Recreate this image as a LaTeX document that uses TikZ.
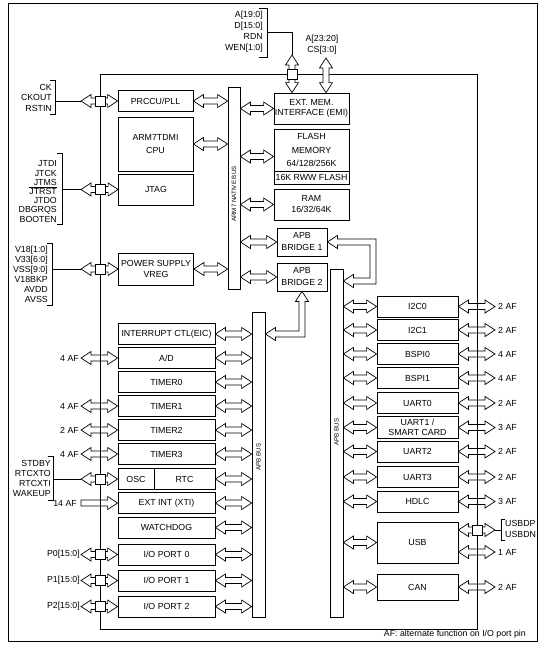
\documentclass[tikz,border=0pt]{standalone}
\usepackage{amsmath}
\usepackage{fontspec}
\setmainfont{Liberation Sans}
\usetikzlibrary{calc}

% hollow arrow sizes
\newcommand{\ahl}{10pt}
\newcommand{\ahw}{6.5pt}
\newcommand{\asw}{3pt}
\newcommand{\blkfont}{\fontsize{8.8}{10}\selectfont}

% horizontal double arrow: #1 left tip, #2 right tip
\newcommand{\hdarr}[2]{%
  \draw[fatarr] let \p1=#1, \p2=#2 in
    (\x1,\y1) -- (\x1+\ahl,\y1+\ahw) -- (\x1+\ahl,\y1+\asw)
    -- (\x2-\ahl,\y1+\asw) -- (\x2-\ahl,\y1+\ahw) -- (\x2,\y1)
    -- (\x2-\ahl,\y1-\ahw) -- (\x2-\ahl,\y1-\asw)
    -- (\x1+\ahl,\y1-\asw) -- (\x1+\ahl,\y1-\ahw) -- cycle;}
% vertical double arrow: #1 top tip, #2 bottom tip
\newcommand{\vdarr}[2]{%
  \draw[fatarr, fill=white] let \p1=#1, \p2=#2 in
    (\x1,\y1) -- (\x1+\ahw,\y1-\ahl) -- (\x1+\asw,\y1-\ahl)
    -- (\x1+\asw,\y2+\ahl) -- (\x1+\ahw,\y2+\ahl) -- (\x1,\y2)
    -- (\x1-\ahw,\y2+\ahl) -- (\x1-\asw,\y2+\ahl)
    -- (\x1-\asw,\y1-\ahl) -- (\x1-\ahw,\y1-\ahl) -- cycle;}
% single arrow with flat tail: #1 tail, #2 tip
\newcommand{\hsarr}[2]{%
  \draw[fatarr] let \p1=#1, \p2=#2 in
    (\x1,\y1+\asw) -- (\x2-\ahl,\y1+\asw) -- (\x2-\ahl,\y1+\ahw) -- (\x2,\y1)
    -- (\x2-\ahl,\y1-\ahw) -- (\x2-\ahl,\y1-\asw) -- (\x1,\y1-\asw) -- cycle;}
% pad square on the chip edge
\newcommand{\pinsq}[1]{\draw[sqr] #1 ++(-5pt,-5pt) rectangle ++(10pt,10pt);}
% pin group bracket: x, top, bottom, tick
\newcommand{\pinbrk}[4]{\draw[wire] ({#1+#4},#2) -- (#1,#2) -- (#1,#3) -- ({#1+#4},#3);}

\begin{document}
\begin{tikzpicture}[x=1pt, y=-1pt,
    blk/.style={draw, line width=0.8pt, inner sep=0pt, align=center, font=\blkfont},
    core/.style={blk, minimum width=75pt},
    perL/.style={blk, minimum width=97pt, minimum height=21pt},
    perR/.style={blk, minimum width=81pt, minimum height=21pt},
    bus/.style={draw, line width=0.8pt, inner sep=0pt},
    buslbl/.style={rotate=90, inner sep=0pt, font=\fontsize{6.2}{7}\selectfont},
    pin/.style={inner sep=0pt, font=\blkfont},
    fatarr/.style={line width=0.7pt, line join=miter},
    wire/.style={line width=0.75pt},
    sqr/.style={draw, fill=white, line width=0.7pt}
]
\useasboundingbox (0,0) rectangle (550,651);
% frames
\draw[wire] (8,3) rectangle (537,641);
\coordinate (chipNW) at (100,74);
\coordinate (chipSE) at (477,629);
\draw[wire] (chipNW) rectangle (chipSE);

% core side
\node[core, minimum height=21pt] (pll) at (155.5,101) {PRCCU/PLL};
\node[core, minimum height=54pt, font=\fontsize{8.8}{12.5}\selectfont] (cpu) at (155.5,144) {ARM7TDMI\\CPU};
\node[core, minimum height=31pt] (jtag) at (156,189.5) {JTAG};
\node[core, minimum height=32pt, font=\fontsize{8.8}{11}\selectfont] (pwr) at (156,269) {POWER SUPPLY\\VREG};
\node[bus, minimum width=12pt, minimum height=202pt] (nbus) at (234,188) {};
\node[buslbl] (nbuslbl) at (234,194) {ARM7 NATIVE BUS};

% memories and bridges
\node[core, minimum height=31pt] (emi) at (311.5,108.5) {EXT. MEM.\\INTERFACE (EMI)};
\node[core, minimum height=42pt, font=\fontsize{8.8}{13.5}\selectfont] (flash) at (311.5,150) {FLASH\\MEMORY\\64/128/256K};
\node[core, minimum height=13pt] (rww) at (311.5,177.5) {16K RWW FLASH};
\node[core, minimum height=31pt, font=\fontsize{8.8}{11}\selectfont] (ram) at (311.5,204.5) {RAM\\16/32/64K};
\node[blk, minimum width=50pt, minimum height=28pt, font=\fontsize{8.8}{12}\selectfont] (br1) at (302,242) {APB\\BRIDGE 1};
\node[blk, minimum width=50pt, minimum height=28pt, font=\fontsize{8.8}{12}\selectfont] (br2) at (302,277) {APB\\BRIDGE 2};

% left peripherals
\node[perL] (int) at (166.5,334) {INTERRUPT CTL(EIC)};
\node[perL] (ad)  at (166.5,358) {A/D};
\node[perL] (t0)  at (166.5,382) {TIMER0};
\node[perL] (t1)  at (166.5,406) {TIMER1};
\node[perL] (t2)  at (166.5,430) {TIMER2};
\node[perL] (t3)  at (166.5,454) {TIMER3};
\node[blk, minimum width=36pt, minimum height=21pt] (osc) at (136,479) {OSC};
\node[blk, minimum width=61pt, minimum height=21pt] (rtc) at (184.5,479) {RTC};
\node[perL] (xti) at (166.5,503) {EXT INT (XTI)};
\node[perL] (wdg) at (166.5,527.5) {WATCHDOG};
\node[perL] (p0)  at (166.5,554.5) {I/O PORT 0};
\node[perL] (p1)  at (166.5,580.5) {I/O PORT 1};
\node[perL] (p2)  at (166.5,606.5) {I/O PORT 2};
\node[bus, minimum width=13pt, minimum height=305pt] (apbL) at (258.5,464.5) {};
\node[buslbl] (apbLlbl) at (258.5,457) {APB BUS};

% right peripherals
\node[bus, minimum width=13pt, minimum height=348pt] (apbR) at (336.5,443) {};
\node[buslbl] (apbRlbl) at (336.5,432) {APB BUS};
\node[perR] (i2c0)  at (417.5,306.5) {I2C0};
\node[perR] (i2c1)  at (417.5,330) {I2C1};
\node[perR] (bspi0) at (417.5,354) {BSPI0};
\node[perR] (bspi1) at (417.5,378) {BSPI1};
\node[perR] (uart0) at (417.5,403) {UART0};
\node[perR, minimum height=22pt, font=\fontsize{8.8}{10}\selectfont] (uart1) at (417.5,427.5) {UART1 /\\SMART CARD};
\node[perR] (uart2) at (417.5,451.5) {UART2};
\node[perR] (uart3) at (417.5,477) {UART3};
\node[perR] (hdlc)  at (417.5,501.5) {HDLC};
\node[perR, minimum height=41pt] (usb) at (417.5,542.5) {USB};
\node[perR, minimum height=26pt] (can) at (417.5,587) {CAN};

% native bus links
\foreach \b in {pll,cpu,pwr} {\hdarr{(\b.east)}{(nbus.west)}}
\foreach \b in {emi,ram,br1,br2} {\hdarr{(nbus.east |- \b.west)}{(\b.west)}}
\coordinate (memin) at ($(flash.north west)!.5!(rww.south west)$);
\hdarr{(nbus.east |- memin)}{(memin)}

% APB bus links
\foreach \b in {int,ad,t0,t1,t2,t3,rtc,xti,wdg,p0,p1,p2} {\hdarr{(\b.east)}{(apbL.west)}}
\foreach \b in {i2c0,i2c1,bspi0,bspi1,uart0,uart1,uart2,uart3,hdlc,usb,can} {\hdarr{(apbR.east |- \b.west)}{(\b.west)}}

% bridges to the APB buses
\coordinate (b1turn) at (373,281);
\draw[fatarr] let \p1=(br1.east), \p2=(apbR.east |- b1turn), \p3=(b1turn) in
  (\x1,\y1) -- (\x1+\ahl,\y1+\ahw) -- (\x1+\ahl,\y1+\asw) -- (\x3+\asw,\y1+\asw)
  -- (\x3+\asw,\y2-\asw) -- (\x2+\ahl,\y2-\asw) -- (\x2+\ahl,\y2-\ahw) -- (\x2,\y2)
  -- (\x2+\ahl,\y2+\ahw) -- (\x2+\ahl,\y2+\asw) -- (\x3-\asw,\y2+\asw)
  -- (\x3-\asw,\y1-\asw) -- (\x1+\ahl,\y1-\asw) -- (\x1+\ahl,\y1-\ahw) -- cycle;
\coordinate (b2turn) at (302,334);
\draw[fatarr] let \p1=(br2.south), \p2=(apbL.east |- b2turn) in
  (\x1,\y1) -- (\x1+\ahw,\y1-\ahl) -- (\x1+\asw,\y1-\ahl) -- (\x1+\asw,\y2-\asw)
  -- (\x2+\ahl,\y2-\asw) -- (\x2+\ahl,\y2-\ahw) -- (\x2,\y2) -- (\x2+\ahl,\y2+\ahw)
  -- (\x2+\ahl,\y2+\asw) -- (\x1-\asw,\y2+\asw) -- (\x1-\asw,\y1-\ahl)
  -- (\x1-\ahw,\y1-\ahl) -- cycle;

% external memory pins
\coordinate (emiA) at (292,55);
\coordinate (emiB) at (326,58);
\vdarr{(emiA)}{(emiA |- emi.north)}
\vdarr{(emiB)}{(emiB |- emi.north)}
\pinsq{(emiA |- chipNW)}
\node[pin, anchor=east, align=right, font=\fontsize{8.8}{11}\selectfont] (memlbl) at (263,31.5) {A[19:0]\\D[15:0]\\RDN\\WEN[1:0]};
\pinbrk{267}{8}{57}{-8}
\draw[wire] (267,32) -| (emiA);
\node[pin, align=center, font=\fontsize{8.8}{11}\selectfont] (cslbl) at (322,44.5) {A[23:20]\\CS[3:0]};

% left pins
\coordinate (pinL) at (81,0);
\foreach \b in {pll,jtag,pwr,ad,t1,t2,t3,osc,p0,p1,p2} {\hdarr{(pinL |- \b.west)}{(\b.west)}}
\hsarr{(pinL |- xti.west)}{(xti.west)}
\foreach \b in {pll,jtag,pwr,osc,p0,p1,p2} {\pinsq{(chipNW |- \b.west)}}
\foreach \b/\n in {ad/4,t1/4,t2/2,t3/4} {\node[pin, anchor=east] (af\b) at ($(pinL |- \b.west)+(-2,0)$) {\n\ AF};}
\node[pin, anchor=east] (afxti) at ($(pinL |- xti.west)+(-4,0)$) {14 AF};
\foreach \b/\n in {p0/0,p1/1,p2/2} {\node[pin, anchor=east] (lbl\b) at ($(pinL |- \b.west)+(-1,0)$) {P\n[15:0]};}

% left pin groups
\node[pin, anchor=east, align=right, font=\fontsize{8.8}{10.5}\selectfont] (cklbl) at (52,97.5) {CK\\CKOUT\\RSTIN};
\pinbrk{55}{80}{114}{-5}
\coordinate (ckbr) at (55,0);
\draw[wire] (ckbr |- pll.west) -- (pinL |- pll.west);
\node[pin, anchor=east, align=right, font=\fontsize{8.8}{9.2}\selectfont] (jtlbl) at (57,191.5) {JTDI\\JTCK\\JTMS\\$\overline{\text{JTRST}}$\\JTDO\\DBGRQS\\BOOTEN};
\pinbrk{62}{153}{224}{-5}
\coordinate (jtbr) at (62,0);
\draw[wire] (jtbr |- jtag.west) -- (pinL |- jtag.west);
\node[pin, anchor=east, align=right, font=\fontsize{8.8}{10}\selectfont] (vlbl) at (48,274) {V18[1:0]\\V33[6:0]\\VSS[9:0]\\V18BKP\\AVDD\\AVSS};
\pinbrk{52}{243}{305}{-5}
\coordinate (vbr) at (52,0);
\draw[wire] (vbr |- pwr.west) -- (pinL |- pwr.west);
\node[pin, anchor=east, align=right, font=\fontsize{8.8}{9.7}\selectfont] (stlbl) at (51,478.5) {STDBY\\RTCXTO\\RTCXTI\\WAKEUP};
\pinbrk{53}{456}{500}{-5}
\coordinate (stbr) at (53,0);
\draw[wire] (stbr |- osc.west) -- (pinL |- osc.west);

% right pins
\coordinate (pinR) at (495,0);
\foreach \b/\n in {i2c0/2,i2c1/2,bspi0/4,bspi1/4,uart0/2,uart1/3,uart2/2,uart3/2,hdlc/3,can/2} {
  \hdarr{(\b.east)}{(pinR |- \b.east)}
  \node[pin, anchor=west] (af\b) at ($(pinR |- \b.east)+(3,0)$) {\n\ AF};
}
\coordinate (usbdp) at ($(usb.east)+(0,-12.5)$);
\coordinate (usbaf) at ($(usb.east)+(0,9.5)$);
\hdarr{(usbdp)}{(pinR |- usbdp)}
\hdarr{(usbaf)}{(pinR |- usbaf)}
\pinsq{(chipSE |- usbdp)}
\node[pin, anchor=west] (afusb) at ($(pinR |- usbaf)+(3,0)$) {1 AF};
\coordinate (usbbr) at (501,0);
\draw[wire] (pinR |- usbdp) -- (usbbr |- usbdp);
\pinbrk{501}{519}{540}{4}
\node[pin, anchor=west, align=left, font=\fontsize{8.8}{11}\selectfont] (usblbl) at (505,528.5) {USBDP\\USBDN};

% note
\node[pin, anchor=east] (afnote) at (526,634) {AF: alternate function on I/O port pin};
\end{tikzpicture}
\end{document}
